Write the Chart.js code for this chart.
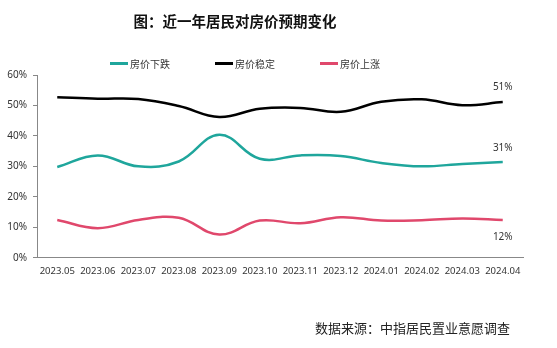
<!DOCTYPE html>
<html>
<head>
	<meta charset="UTF-8">
	<script src="https://cdn.jsdelivr.net/npm/chart.js@4.4.1/dist/chart.umd.min.js"></script>
	<style>
		body { margin: 0; background: #fff; }
		#wrap { position: relative; width: 557px; height: 348px; font-family: "Noto Sans CJK SC", sans-serif; }
		#title { position: absolute; left: 0; width: 470px; top: 10px; text-align: center; font-size: 14.5px; font-weight: bold; color: #111; }
		#legend { position: absolute; top: 56px; left: 110px; font-size: 10px; color: #333; display: flex; }
		#legend span.item { display: flex; align-items: center; width: 105px; }
		#legend i { display: inline-block; width: 18px; height: 3px; margin-right: 2px; }
		#source { position: absolute; right: 47px; top: 318px; font-size: 13px; color: #222; }
		canvas { position: absolute; left: 0; top: 0; }
	</style>
</head>
<body>
<div id="wrap">
	<canvas id="c" width="557" height="348"></canvas>
	<div id="title">图：近一年居民对房价预期变化</div>
	<div id="legend"></div>
	<div id="source">数据来源：中指居民置业意愿调查</div>
</div>
<script>
	// 월별 라벨
	var months = ['2023.05', '2023.06', '2023.07', '2023.08', '2023.09', '2023.10', '2023.11', '2023.12', '2024.01', '2024.02', '2024.03', '2024.04'];
	var seriesNames = ['房价下跌', '房价稳定', '房价上涨'];
	var fallValues = [29.8, 33.6, 30.0, 31.6, 40.4, 32.5, 33.6, 33.4, 31.1, 30.0, 30.8, 31.4];
	var stableValues = [52.7, 52.2, 52.1, 49.8, 46.2, 48.9, 49.2, 47.9, 51.2, 52.0, 50.1, 51.1];
	var riseValues = [12.4, 9.7, 12.4, 13.1, 7.6, 12.2, 11.3, 13.3, 12.2, 12.3, 12.9, 12.4];
	var endLabels = ['31%', '51%', '12%'];
	var yTicks = [0, 10, 20, 30, 40, 50, 60];

	var colors = ['#1fa69c', '#000000', '#e0486c'];
	var labelOffsets = [-14, -15, 17];

	// 마지막 값 옆에 라벨 그리기
	var endLabelPlugin = {
		id: 'endLabel',
		afterDatasetsDraw: function (chart) {
			var ctx = chart.ctx;
			ctx.save();
			ctx.font = '10px "Noto Sans", sans-serif';
			ctx.fillStyle = '#333';
			ctx.textAlign = 'center';
			ctx.textBaseline = 'middle';
			chart.data.datasets.forEach(function (ds, i) {
				var meta = chart.getDatasetMeta(i);
				var pt = meta.data[meta.data.length - 1];
				ctx.fillText(endLabels[i], pt.x, pt.y + labelOffsets[i]);
			});
			ctx.restore();
		}
	};

	var allValues = [fallValues, stableValues, riseValues];
	var datasets = seriesNames.map(function (name, i) {
		return {
			label: name,
			data: allValues[i],
			borderColor: colors[i],
			backgroundColor: colors[i],
			borderWidth: 2.5,
			pointRadius: 0,
			tension: 0.4,
			fill: false
		};
	});

	// 범례 (HTML)
	var legend = document.getElementById('legend');
	seriesNames.forEach(function (name, i) {
		var item = document.createElement('span');
		item.className = 'item';
		var mark = document.createElement('i');
		mark.style.background = colors[i];
		item.appendChild(mark);
		item.appendChild(document.createTextNode(name));
		legend.appendChild(item);
	});

	var ctx = document.getElementById('c').getContext('2d');
	new Chart(ctx, {
		type: 'line',
		data: { labels: months, datasets: datasets },
		plugins: [endLabelPlugin],
		options: {
			responsive: false,
			animation: false,
			layout: { padding: { left: 0, right: 34, top: 75, bottom: 70 } },
			plugins: { legend: { display: false }, title: { display: false }, tooltip: { enabled: false } },
			scales: {
				x: {
					offset: true,
					grid: { display: false, drawTicks: false },
					border: { color: '#888', width: 1 },
					ticks: { color: '#333', font: { size: 9.5, family: '"Noto Sans", sans-serif' }, padding: 8, maxRotation: 0, autoSkip: false },
					afterFit: function (s) { s.height = 20.3; }
				},
				y: {
					min: 0,
					max: 60,
					afterBuildTicks: function (s) { s.ticks = yTicks.map(function (v) { return { value: v }; }); },
					grid: { drawOnChartArea: false, drawTicks: true, tickLength: 4, color: '#888' },
					border: { color: '#888', width: 1 },
					ticks: {
						color: '#333',
						font: { size: 10, family: '"Noto Sans", sans-serif' },
						padding: 6,
						callback: function (v) { return v + '%'; }
					},
					afterFit: function (s) { s.width = 37; }
				}
			}
		}
	});
</script>
</body>
</html>
